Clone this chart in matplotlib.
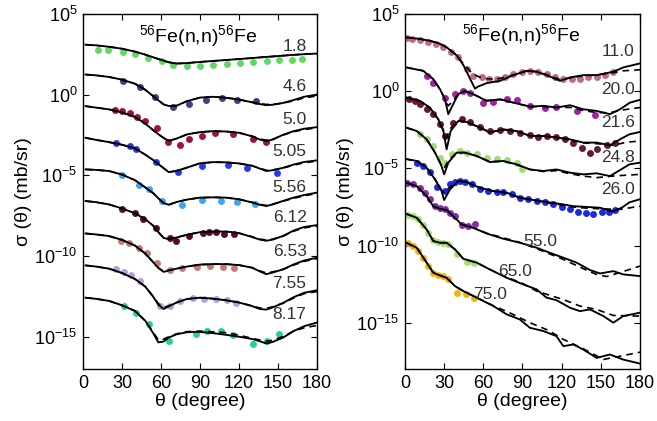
import numpy as np
import matplotlib
matplotlib.use("Agg")
import matplotlib.pyplot as plt

plt.rcParams['font.family'] = ['Liberation Sans', 'DejaVu Sans']
plt.rcParams['mathtext.fontset'] = 'custom'
plt.rcParams['mathtext.rm'] = 'Liberation Sans'
plt.rcParams['mathtext.it'] = 'Liberation Sans:italic'

# ---------------- left panel: 1.8 - 8.17 MeV (log10 sigma, shifted) ----------------
left_energies = ['1.8', '4.6', '5.0', '5.05', '5.56', '6.12', '6.53', '7.55', '8.17']
left_colors = ['#62d862', '#4a3a82', '#a0143c', '#2a3ae6', '#3aa8ee',
               '#5c0a34', '#c47c78', '#b8a0e0', '#22d0a0']

th_left = [2, 10, 20, 30, 40, 48, 54, 58, 62, 66, 72, 80, 90, 100, 110, 120,
           130, 136, 141, 146, 154, 162, 170, 180]

fit_1_8 = [3.10, 3.06, 2.97, 2.85, 2.67, 2.48, 2.32, 2.21, 2.11, 2.01, 1.93, 1.96,
           2.03, 2.09, 2.15, 2.21, 2.27, 2.31, 2.34, 2.37, 2.42, 2.47, 2.51, 2.55]
fit_4_6 = [1.25, 1.20, 1.10, 0.93, 0.68, 0.30, -0.09, -0.35, -0.60, -0.70, -0.68, -0.40,
           -0.18, -0.13, -0.19, -0.30, -0.47, -0.58, -0.65, -0.62, -0.51, -0.33, -0.13, 0.01]
fit_5_0 = [-0.71, -0.80, -0.91, -1.10, -1.38, -1.80, -2.20, -2.45, -2.68, -2.86, -2.72, -2.46,
           -2.32, -2.26, -2.28, -2.36, -2.58, -2.78, -2.88, -2.78, -2.48, -2.26, -2.11, -2.01]
fit_5_05 = [-2.67, -2.80, -2.94, -3.10, -3.33, -3.72, -4.05, -4.30, -4.55, -4.80, -4.72, -4.52,
            -4.25, -4.18, -4.19, -4.26, -4.40, -4.58, -4.73, -4.68, -4.53, -4.33, -4.17, -4.07]
fit_5_56 = [-4.63, -4.66, -4.73, -4.95, -5.30, -5.75, -6.10, -6.42, -6.72, -6.82, -6.65, -6.50,
            -6.38, -6.36, -6.38, -6.48, -6.68, -6.82, -6.90, -6.80, -6.58, -6.38, -6.22, -6.07]
fit_6_12 = [-6.59, -6.66, -6.80, -7.05, -7.35, -7.72, -8.12, -8.52, -8.88, -8.95, -8.85, -8.68,
            -8.52, -8.48, -8.48, -8.58, -8.82, -8.98, -9.05, -8.98, -8.75, -8.42, -8.20, -8.08]
fit_6_53 = [-8.60, -8.66, -8.76, -9.00, -9.35, -9.85, -10.38, -10.75, -10.98, -10.90, -10.78, -10.65,
            -10.53, -10.50, -10.50, -10.56, -10.72, -10.95, -11.12, -11.02, -10.82, -10.52, -10.28, -10.10]
fit_7_55 = [-10.58, -10.65, -10.78, -11.05, -11.42, -11.90, -12.52, -13.02, -13.28, -13.12, -12.88, -12.66,
            -12.58, -12.64, -12.74, -12.88, -13.10, -13.28, -13.32, -13.18, -12.90, -12.55, -12.28, -12.12]
fit_8_17 = [-12.58, -12.65, -12.78, -13.05, -13.40, -14.02, -14.78, -15.35, -15.30, -15.05, -14.85, -14.72,
            -14.70, -14.78, -14.88, -15.00, -15.14, -15.28, -15.42, -15.32, -15.05, -14.65, -14.35, -14.12]

dash_1_8 = fit_1_8
dash_4_6 = [1.25, 1.20, 1.10, 0.93, 0.68, 0.30, -0.09, -0.35, -0.60, -0.70, -0.68, -0.40,
            -0.18, -0.13, -0.19, -0.30, -0.47, -0.56, -0.60, -0.60, -0.52, -0.38, -0.20, -0.08]
dash_5_0 = [-0.71, -0.80, -0.91, -1.10, -1.38, -1.80, -2.20, -2.45, -2.68, -2.86, -2.72, -2.46,
            -2.32, -2.26, -2.28, -2.36, -2.56, -2.74, -2.82, -2.76, -2.50, -2.30, -2.16, -2.06]
dash_5_05 = [-2.67, -2.80, -2.94, -3.10, -3.33, -3.72, -4.05, -4.30, -4.55, -4.80, -4.72, -4.52,
             -4.25, -4.18, -4.19, -4.26, -4.40, -4.56, -4.68, -4.66, -4.54, -4.37, -4.22, -4.12]
dash_5_56 = [-4.63, -4.66, -4.73, -4.95, -5.30, -5.75, -6.10, -6.42, -6.72, -6.82, -6.65, -6.50,
             -6.38, -6.36, -6.38, -6.48, -6.66, -6.80, -6.86, -6.78, -6.60, -6.42, -6.27, -6.12]
dash_6_12 = [-6.59, -6.66, -6.80, -7.05, -7.35, -7.72, -8.12, -8.52, -8.86, -8.93, -8.85, -8.68,
             -8.52, -8.48, -8.48, -8.58, -8.80, -8.95, -9.00, -8.95, -8.76, -8.46, -8.25, -8.15]
dash_6_53 = [-8.60, -8.66, -8.76, -9.00, -9.35, -9.85, -10.38, -10.72, -10.94, -10.88, -10.78, -10.65,
             -10.53, -10.50, -10.50, -10.56, -10.72, -10.92, -11.05, -10.98, -10.82, -10.56, -10.33, -10.16]
dash_7_55 = [-10.58, -10.65, -10.78, -11.05, -11.42, -11.90, -12.50, -12.95, -13.18, -13.08, -12.88, -12.66,
             -12.58, -12.64, -12.74, -12.88, -13.08, -13.22, -13.24, -13.14, -12.92, -12.60, -12.33, -12.20]
dash_8_17 = [-12.58, -12.65, -12.78, -13.05, -13.40, -14.02, -14.72, -15.20, -15.15, -15.00, -14.82, -14.68,
             -14.65, -14.70, -14.75, -14.90, -15.10, -15.20, -15.28, -15.22, -14.98, -14.65, -14.45, -14.30]

left_fit = [fit_1_8, fit_4_6, fit_5_0, fit_5_05, fit_5_56, fit_6_12, fit_6_53, fit_7_55, fit_8_17]
left_dash = [dash_1_8, dash_4_6, dash_5_0, dash_5_05, dash_5_56, dash_6_12, dash_6_53, dash_7_55, dash_8_17]

# measured points (angle, log10 sigma)
exp_th_1_8 = [11.6, 19.3, 30.9, 39.9, 50, 60.4, 69.4, 79.7, 90, 100.3, 110.6, 120.8, 131, 141.4, 150.4, 160.7, 168.4]
exp_1_8 = [2.79, 2.79, 2.65, 2.53, 2.28, 2.07, 1.87, 1.76, 1.76, 1.82, 1.93, 1.97, 2.03, 2.07, 2.13, 2.18, 2.22]
exp_th_4_6 = [30.9, 43.7, 55.3, 68.9, 81.8, 95, 106.7, 118.8, 133]
exp_4_6 = [0.84, 0.48, -0.15, -0.75, -0.55, -0.30, -0.20, -0.30, -0.40]
exp_th_5_0 = [24.4, 30.3, 36.5, 41.7, 47.6, 56.6, 65.6, 74.6, 81.8, 91.3, 101.6, 115.7, 131, 140.9]
exp_5_0 = [-0.96, -1.02, -1.16, -1.37, -1.64, -2.05, -2.94, -3.12, -2.77, -2.57, -2.40, -2.46, -2.77, -2.94]
exp_th_5_05 = [25.2, 36, 41, 56, 73.3, 91.3, 111.8, 126.5, 149]
exp_5_05 = [-2.98, -3.19, -3.39, -4.18, -4.79, -4.42, -4.38, -4.53, -4.88]
exp_th_5_56 = [30.3, 43.2, 51, 61, 75.8, 91.3, 106, 118.8, 132.4]
exp_5_56 = [-5.00, -5.62, -5.87, -6.59, -6.86, -6.53, -6.57, -6.65, -6.77]
exp_th_6_12 = [30.3, 39.9, 46.3, 56, 66.9, 71.5, 81.8, 92.6, 97, 102, 108.5, 116]
exp_6_12 = [-7.06, -7.36, -7.69, -8.25, -8.87, -9.07, -8.76, -8.56, -8.52, -8.54, -8.62, -8.66]
exp_th_6_53 = [29.6, 35.5, 43.2, 48.9, 56.6, 66.9, 75.8, 87.4, 97.7, 107.5, 116.5]
exp_6_53 = [-9.07, -9.18, -9.49, -9.79, -10.45, -10.89, -10.72, -10.66, -10.62, -10.66, -10.76]
exp_th_7_55 = [25.2, 31.4, 37.3, 43.7, 59, 66.9, 74.6, 84.3, 93, 102, 110.6, 117.8]
exp_7_55 = [-10.82, -10.99, -11.19, -11.54, -13.09, -13.09, -12.78, -12.58, -12.64, -12.68, -12.74, -12.89]
exp_th_8_17 = [31.4, 40.6, 50.6, 66.3, 86.8, 95.6, 105.9, 115.7, 131, 141.4, 151]
exp_8_17 = [-13.09, -13.54, -14.22, -15.25, -14.84, -14.63, -14.67, -14.88, -15.46, -15.25, -14.84]

left_exp_th = [exp_th_1_8, exp_th_4_6, exp_th_5_0, exp_th_5_05, exp_th_5_56,
               exp_th_6_12, exp_th_6_53, exp_th_7_55, exp_th_8_17]
left_exp = [exp_1_8, exp_4_6, exp_5_0, exp_5_05, exp_5_56, exp_6_12, exp_6_53, exp_7_55, exp_8_17]

left_label_x = [172] * 9
left_label_y = [2.96, 0.49, -1.54, -3.52, -5.74, -7.59, -9.69, -11.73, -13.64]

# ---------------- right panel: 11 - 75 MeV ----------------
right_energies = ['11.0', '20.0', '21.6', '24.8', '26.0', '55.0', '65.0', '75.0']
right_colors = ['#c46a88', '#a020a8', '#6a1830', '#a2dc70', '#1a2ae8',
                '#8a2aae', '#a8e070', '#f5b400']

fth_11 = [1, 10, 19, 26, 32, 40, 45, 50, 53.6, 56, 62.5, 72.8, 83, 93, 101, 111, 118.7, 126.4, 136.6, 146.8, 159.6, 167.2, 180]
fit_11 = [3.48, 3.40, 3.27, 3.10, 2.84, 2.29, 1.65, 0.78, 0.17, 0.30, 0.52, 0.67, 1.04, 1.32, 1.26, 0.95, 0.67, 0.89, 1.04, 1.04, 1.26, 1.54, 1.80]
dth_11 = [1, 10, 19, 26, 32, 40, 45, 52, 60, 70, 83, 93, 101, 111, 118.7, 126.4, 136.6, 146.8, 159.6, 167.2, 180]
dash_11 = [3.48, 3.40, 3.27, 3.10, 2.84, 2.29, 1.75, 1.10, 0.82, 0.78, 1.04, 1.30, 1.28, 1.00, 0.75, 0.85, 1.00, 1.05, 1.20, 1.32, 1.39]

fth_20 = [1, 14, 21.7, 26.8, 30.6, 33.2, 35, 40.8, 46, 52.3, 62.5, 72.8, 83, 95.7, 106, 116, 126.4, 136.6, 146.8, 157, 164.7, 172.3, 180]
fit_20 = [1.54, 1.32, 0.78, 0.13, -0.52, -1.49, -1.17, -0.19, 0.02, -0.19, -0.63, -0.52, -0.74, -1.00, -0.95, -1.06, -0.91, -1.17, -1.28, -1.49, -1.17, -0.74, -0.56]
dth_20 = [1, 14, 21.7, 26.8, 30.6, 33.2, 36, 40.8, 46, 52.3, 62.5, 72.8, 83, 95.7, 106, 116, 126.4, 136.6, 146.8, 157, 168, 180]
dash_20 = [1.54, 1.32, 0.78, 0.13, -0.50, -0.95, -0.70, -0.20, 0.00, -0.20, -0.60, -0.55, -0.74, -1.00, -1.00, -1.06, -1.05, -1.25, -1.39, -1.39, -1.20, -1.06]

fth_21 = [1, 11.5, 19, 25.5, 29.4, 31.9, 35, 40.8, 47.2, 57.4, 65, 75.3, 85.5, 95.7, 106, 116, 126.4, 136.6, 146.8, 157, 164.7, 172, 180]
fit_21 = [-0.41, -0.63, -1.06, -1.82, -2.58, -3.77, -2.58, -1.93, -1.99, -2.36, -2.68, -2.47, -2.58, -2.90, -2.90, -3.00, -3.12, -3.33, -3.33, -3.51, -3.12, -2.79, -2.64]
dth_21 = [1, 11.5, 19, 25.5, 29.4, 31.9, 35, 40.8, 47.2, 57.4, 65, 75.3, 85.5, 95.7, 106, 116, 126.4, 136.6, 146.8, 159.6, 170, 180]
dash_21 = [-0.41, -0.63, -1.06, -1.82, -2.50, -3.00, -2.40, -1.90, -1.99, -2.36, -2.65, -2.50, -2.60, -2.88, -2.92, -3.00, -3.15, -3.35, -3.40, -3.50, -3.30, -3.23]

fth_24 = [1, 9, 16.6, 23, 28, 30, 33.2, 39.6, 46, 55, 65, 75.3, 85.5, 95.7, 106, 116, 126.4, 136.6, 146.8, 157, 164.7, 172, 180]
fit_24 = [-2.36, -2.58, -3.12, -3.98, -4.85, -5.39, -4.63, -3.98, -3.98, -4.20, -4.59, -4.52, -4.74, -5.07, -5.17, -5.07, -5.28, -5.39, -5.32, -5.50, -5.11, -4.74, -4.63]
dth_24 = [1, 9, 16.6, 23, 28, 30, 33.2, 39.6, 46, 55, 65, 75.3, 85.5, 95.7, 106, 116, 126.4, 136.6, 146.8, 162, 180]
dash_24 = [-2.36, -2.58, -3.12, -3.98, -4.80, -5.00, -4.50, -3.98, -3.98, -4.20, -4.57, -4.54, -4.76, -5.07, -5.20, -5.15, -5.35, -5.50, -5.60, -5.48, -5.39]

fth_26 = [1, 9, 16.6, 23, 28, 30, 34.5, 40.8, 47.2, 57.4, 67.7, 77.9, 88, 98.3, 108.5, 118.7, 129, 139, 149.4, 159, 166, 172, 180]
fit_26 = [-4.40, -4.52, -4.96, -5.71, -6.47, -7.05, -6.36, -5.82, -5.89, -6.26, -6.47, -6.58, -6.90, -7.05, -7.18, -7.30, -7.45, -7.50, -7.55, -7.80, -7.55, -7.20, -7.00]
dth_26 = [1, 9, 16.6, 23, 28, 30, 34.5, 40.8, 47.2, 57.4, 67.7, 77.9, 88, 98.3, 108.5, 118.7, 129, 139, 149.4, 164.7, 180]
dash_26 = [-4.40, -4.52, -4.96, -5.71, -6.40, -6.60, -6.20, -5.82, -5.89, -6.26, -6.47, -6.60, -6.90, -7.08, -7.22, -7.36, -7.50, -7.58, -7.62, -7.66, -7.45]

fth_55 = [1, 9, 16.6, 21.7, 26.8, 31.9, 37, 43.4, 52.3, 62.5, 75.3, 88, 100.8, 111, 121.3, 131.5, 141.7, 149.4, 159.6, 167.2, 180]
fit_55 = [-5.93, -6.15, -6.80, -7.45, -7.62, -7.70, -8.10, -8.63, -8.85, -9.22, -9.56, -9.82, -10.14, -10.47, -10.79, -11.11, -11.59, -11.81, -11.66, -11.87, -11.98]
dth_55 = [1, 9, 16.6, 21.7, 26.8, 31.9, 37, 43.4, 52.3, 62.5, 75.3, 88, 100.8, 111, 121.3, 131.5, 141.7, 146.8, 154.5, 164.7, 180]
dash_55 = [-5.93, -6.15, -6.80, -7.45, -7.62, -7.70, -8.10, -8.63, -8.85, -9.20, -9.50, -9.80, -10.20, -10.55, -10.90, -11.30, -11.70, -11.87, -12.01, -11.75, -11.33]

fth_65 = [1, 9, 16.6, 21.7, 26.8, 31.9, 38.3, 44.7, 55, 65, 77.9, 90.6, 100.8, 108.5, 116, 126.4, 134, 141.7, 152, 159.6, 167.2, 180]
fit_65 = [-7.95, -8.20, -8.96, -9.71, -9.82, -9.82, -10.25, -10.86, -11.11, -11.55, -12.09, -12.52, -12.84, -13.38, -13.54, -14.03, -14.25, -14.14, -14.57, -15.00, -14.57, -14.35]
dth_65 = [1, 9, 16.6, 21.7, 26.8, 31.9, 38.3, 44.7, 55, 65, 77.9, 90, 100.8, 110, 121.3, 134, 146.8, 159.6, 180]
dash_65 = [-7.95, -8.20, -8.96, -9.71, -9.82, -9.82, -10.25, -10.86, -11.11, -11.55, -12.05, -12.45, -12.95, -13.20, -13.50, -13.92, -14.14, -14.53, -14.57]

fth_75 = [1, 9, 16.6, 21.7, 26.8, 31.9, 38.3, 44.7, 55, 67.7, 77.9, 88, 95.7, 106, 116, 121.3, 129, 136.6, 146.8, 157, 167.2, 180]
fit_75 = [-9.82, -10.14, -11.11, -11.76, -11.94, -12.09, -12.63, -12.95, -13.38, -13.92, -14.46, -14.79, -15.33, -15.54, -15.87, -16.52, -16.41, -16.74, -17.28, -17.06, -17.39, -17.65]
dth_75 = [1, 9, 16.6, 21.7, 26.8, 31.9, 38.3, 44.7, 55, 67.7, 80, 95.7, 110, 121.3, 136.6, 152, 164.7, 180]
dash_75 = [-9.82, -10.14, -11.11, -11.76, -11.94, -12.09, -12.63, -12.95, -13.38, -13.90, -14.35, -15.00, -15.50, -16.08, -16.69, -17.38, -17.17, -16.91]

right_fit_th = [fth_11, fth_20, fth_21, fth_24, fth_26, fth_55, fth_65, fth_75]
right_fit = [fit_11, fit_20, fit_21, fit_24, fit_26, fit_55, fit_65, fit_75]
right_dash_th = [dth_11, dth_20, dth_21, dth_24, dth_26, dth_55, dth_65, dth_75]
right_dash = [dash_11, dash_20, dash_21, dash_24, dash_26, dash_55, dash_65, dash_75]

exp_th_11 = [1.5, 5.1, 11.5, 17.9, 23.7, 29.4, 35, 40.8, 47.2, 52.3, 58.7, 64.6, 70.2, 76.6, 83, 89.4, 95.7, 102, 108.5, 115, 121.3, 127.7, 134, 140.4, 146.8, 153.2, 159.6]
exp_11 = [3.45, 3.38, 3.33, 3.20, 3.05, 2.84, 2.51, 2.19, 1.43, 1.00, 0.89, 0.78, 0.82, 0.95, 1.10, 1.26, 1.32, 1.26, 1.10, 0.95, 0.82, 0.78, 0.82, 0.89, 0.95, 1.05, 1.22]
exp_th_20 = [16.6, 21.7, 30.6, 38.3, 44.7, 49.8, 60, 67.7, 77.9, 85.5, 95.7, 107.2, 116, 131.5, 145.5]
exp_20 = [0.99, 0.56, -0.41, -0.19, 0.02, -0.09, -0.74, -0.69, -0.52, -0.56, -0.95, -1.06, -1.00, -1.28, -1.56]
exp_th_21 = [3.3, 7.7, 11.5, 16.6, 21.7, 26.8, 30.6, 37, 43.4, 49.8, 57.4, 65, 72.8, 80.4, 88, 95.7, 102, 108.5, 116, 122.5, 129, 135.3, 141.7, 146.8, 154.5, 160.8]
exp_21 = [-0.52, -0.63, -0.84, -1.17, -1.49, -2.14, -2.90, -2.04, -1.82, -1.99, -2.29, -2.58, -2.51, -2.58, -2.68, -2.86, -3.00, -2.90, -3.00, -3.07, -3.33, -3.66, -3.98, -3.77, -3.51, -3.38]
exp_th_24 = [11.5, 16.6, 21.7, 26.8, 30.6, 35.7, 42, 47.2, 55, 62.5, 70.2, 77.9, 85.5, 89.4]
exp_24 = [-2.79, -3.12, -3.55, -4.31, -4.63, -4.09, -3.87, -3.98, -4.09, -4.31, -4.42, -4.46, -4.63, -5.02]
exp_th_26 = [9.4, 14, 19, 24.3, 30.6, 34.5, 38, 42, 46, 51, 57.4, 63.8, 70.2, 75.3, 81.7, 88, 94.5, 100.8, 107.2, 113.6, 120, 126.4, 132.8, 139, 144.2, 150.6, 156, 160.8]
exp_26 = [-4.63, -4.85, -5.24, -6.19, -6.47, -6.04, -5.90, -5.85, -5.89, -6.04, -6.36, -6.47, -6.50, -6.52, -6.69, -6.90, -7.00, -7.12, -7.20, -7.34, -7.50, -7.62, -7.80, -7.90, -7.95, -7.85, -7.80, -7.70]
exp_th_55 = [1.3, 6.4, 11.5, 15.3, 19, 23, 26.8, 30.6, 34.5, 38.3, 43.4, 48.5, 53.6]
exp_55 = [-5.93, -6.00, -6.25, -6.57, -7.00, -7.43, -7.60, -7.66, -7.88, -8.10, -8.70, -8.72, -8.63]
exp_th_65 = [2.6, 6.4, 10.2, 14, 17.9, 21.7, 25.5, 29.4, 33.2, 39.6, 47.2, 52.8]
exp_65 = [-7.99, -8.10, -8.31, -8.70, -9.18, -9.61, -9.76, -9.82, -9.93, -10.58, -11.07, -11.16]
exp_th_75 = [2.6, 6.4, 10.2, 14, 17.9, 21.7, 25.5, 29.4, 33.2, 39.6, 46.7, 52.8]
exp_75 = [-9.82, -10.04, -10.36, -10.79, -11.33, -11.81, -11.94, -11.98, -12.20, -13.06, -13.17, -13.38]

right_exp_th = [exp_th_11, exp_th_20, exp_th_21, exp_th_24, exp_th_26, exp_th_55, exp_th_65, exp_th_75]
right_exp = [exp_11, exp_20, exp_21, exp_24, exp_26, exp_55, exp_65, exp_75]

right_label_x = [176, 176, 176, 176, 176, 103.4, 84.3, 65]
right_label_y = [2.57, 0.11, -2.03, -4.29, -6.37, -9.73, -11.68, -13.17]
right_label_ha = ['right'] * 5 + ['center'] * 3

title = r'$^{56}$Fe(n,n)$^{56}$Fe'


def draw_panel(ax, th_fit, fits, th_dash, dashes, exp_th, exps, colors, labels,
               lab_x, lab_y, lab_ha, ylim):
    for i in range(len(fits)):
        ax.plot(exp_th[i], 10.0 ** np.array(exps[i]), 'o', color=colors[i],
                markersize=5.0, markeredgewidth=0, zorder=2)
        ax.plot(th_dash[i], 10.0 ** np.array(dashes[i]), '--', color='black',
                lw=1.2, dashes=(4, 3), zorder=3)
        ax.plot(th_fit[i], 10.0 ** np.array(fits[i]), '-', color='black',
                lw=1.35, zorder=4)
        ax.text(lab_x[i], 10.0 ** lab_y[i], labels[i], ha=lab_ha[i], va='center',
                fontsize=12.5, color='#333333', zorder=5)
    ax.set_yscale('log')
    ax.set_xlim(0, 180)
    ax.set_ylim(*ylim)
    ax.set_xticks([0, 30, 60, 90, 120, 150, 180])
    ax.set_yticks([1e-15, 1e-10, 1e-5, 1e0, 1e5])
    ax.minorticks_off()
    ax.tick_params(direction='in', top=True, right=True, length=4, width=0.8,
                   labelsize=13, pad=4)
    for s in ax.spines.values():
        s.set_linewidth(1.0)
    ax.set_xlabel(r'θ (degree)', fontsize=14, labelpad=1)
    ax.set_ylabel(r'σ (θ) (mb/sr)', fontsize=14, labelpad=2)
    ax.text(89, 10.0 ** 3.65, title, ha='center', va='center', fontsize=14, zorder=5)


fig = plt.figure(figsize=(6.57, 4.21), dpi=100)
ax1 = fig.add_axes([0.1263, 0.1235, 0.3562, 0.8432])
ax2 = fig.add_axes([0.6164, 0.1235, 0.3577, 0.8432])

draw_panel(ax1, [th_left] * 9, left_fit, [th_left] * 9, left_dash,
           left_exp_th, left_exp, left_colors, left_energies,
           left_label_x, left_label_y, ['right'] * 9, (1e-17, 1e5))
draw_panel(ax2, right_fit_th, right_fit, right_dash_th, right_dash,
           right_exp_th, right_exp, right_colors, right_energies,
           right_label_x, right_label_y, right_label_ha, (1e-18, 1e5))

fig.savefig('out.png', dpi=100)
